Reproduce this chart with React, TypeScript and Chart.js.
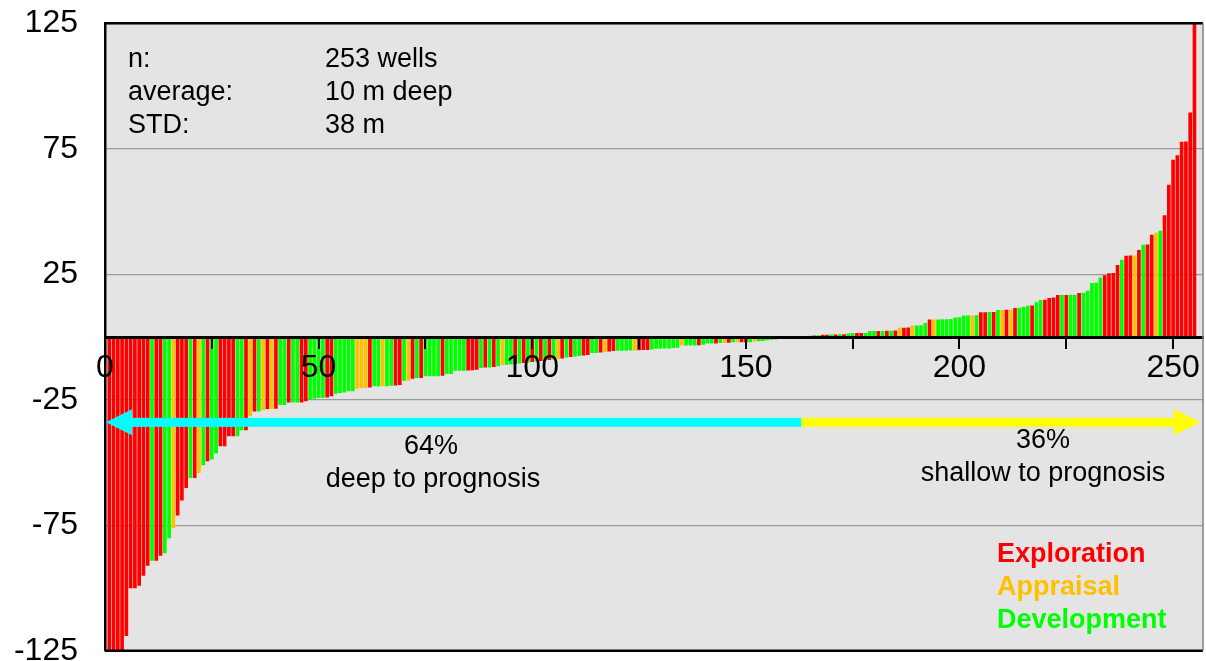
import React, { useEffect, useRef } from "react";
import { Chart, registerables } from "chart.js";

Chart.register(...registerables);

// depth difference vs prognosis (m), sorted, one value per well
const depthDiff: number[] = [
  -130, -130, -130, -130, -119, -100, -100, -99, -95, -91,
  -89, -89, -87, -86, -80, -76, -71, -65, -60, -56,
  -56, -54, -51, -49.4, -48.7, -46.3, -43.4, -43.4, -39.4, -39.4,
  -39.4, -37, -37, -31.4, -29.5, -29.5, -29, -28.5, -28.5, -28.4,
  -27, -27, -26, -26, -26, -26, -25.5, -25, -24.5, -24.2,
  -24.2, -24, -23.5, -22.5, -22.2, -22, -21.5, -21.5, -20.5, -20.2,
  -20.2, -20, -19.5, -19.5, -19.5, -19.5, -19.3, -19.2, -19, -17.3,
  -17.3, -16.5, -16.2, -16.2, -15.5, -15.5, -15.5, -15.5, -15.3, -14.6,
  -14.6, -13.3, -13.3, -13.3, -13.2, -13.1, -12.9, -12.2, -12, -12,
  -11.8, -11.5, -11, -10.9, -10.8, -10.6, -10.4, -10.2, -10, -9.8,
  -9.6, -9.4, -9.2, -9, -8.8, -8.6, -8.4, -8, -7.8, -7.6,
  -7.4, -7.2, -7, -6.2, -6.2, -6, -5.8, -5.6, -5.4, -5.3,
  -5.3, -5.3, -5.2, -5.2, -5.1, -5, -5, -4.8, -4.5, -4.5,
  -4.4, -4.4, -4.3, -4.2, -3.3, -3.3, -3.3, -3.3, -3.2, -3,
  -2.5, -2.5, -2.5, -2.3, -2.3, -2.2, -2, -2, -2, -2,
  -2, -1.8, -1.6, -1.5, -1.2, -1, -0.8, -0.6, -0.5, -0.4,
  -0.3, -0.2, 0.2, 0.3, 0.4, 0.5, 0.6, 0.8, 0.8, 0.9,
  0.9, 1, 1, 1.3, 1.5, 1.5, 1.5, 1.5, 2.3, 2.3,
  2.3, 2.3, 2.4, 2.4, 2.5, 3.6, 3.6, 3.7, 4.4, 4.4,
  4.5, 5.4, 6.8, 6.8, 6.8, 6.9, 6.9, 7, 7.6, 7.7,
  8.4, 8.4, 8.4, 8.5, 9.7, 9.7, 9.8, 9.8, 10.6, 10.6,
  10.7, 10.7, 11.4, 11.5, 11.9, 12.3, 12.4, 13.7, 14.6, 14.7,
  15.4, 15.6, 16.6, 16.6, 16.6, 16.7, 16.7, 17.4, 17.5, 18.3,
  21.4, 21.5, 23.6, 24.5, 25.3, 25.4, 28.5, 30.6, 32.2, 32.3,
  32.3, 34.5, 36.6, 36.7, 40.6, 41.4, 42.2, 48.4, 60.5, 70.5,
  72.3, 77.6, 77.7, 89.3, 126,
];

// well type per bar: E = Exploration, A = Appraisal, D = Development
const wellType: string[] = [
  "EEEEEEEEEE", "DEEDDAEEED", "EADEDDEEEE", "DDEAEDAEAE", "DDEDDEEDDD",
  "DEEDDDDDAA", "AEDDADDEED", "AEDEDDDDED", "DDDDEEEDED", "EDADDEDEDE",
  "DEDEDAEDED", "DEEDDEAEED", "DDDAEEEDDD", "DDDDADDDED", "DDEDAEDAEE",
  "DADDDDEDDE", "DDDEDEDEED", "EDEDDEEDDD", "EDEDEAEEAD", "DDEADDDDDD",
  "DDADEEDEDA", "EAEDDDEDDE", "EEEDEDDEDD", "DDDEEEEDEE", "AEDEEADEEE",
  "EEEEE",
].join("").split("");

const typeCodes = ["E", "A", "D"];
const typeNames = ["Exploration", "Appraisal", "Development"];
const typeColors = ["#FF0000", "#FFC000", "#00FF00"];

const statLabels = ["n:", "average:", "STD:"];
const statValues = ["253 wells", "10 m deep", "38 m"];

const deepShare = "64%";
const deepText = "deep to prognosis";
const shallowShare = "36%";
const shallowText = "shallow to prognosis";

// arrow: level on y axis, and the well count where deep turns to shallow
const arrowLevel = -34;
const splitWell = 163;

const yMin = -125;
const yMax = 125;
const yStep = 50;
const xMax = 257;
const xTickStep = 25;
const xLabelStep = 50;

const FONT = "'Liberation Sans', Arial, Helvetica, sans-serif";
const SHIFT = 23; // canvas is moved up by this many px

function drawArrow(ctx: CanvasRenderingContext2D, from: number, tip: number, y: number, color: string) {
  const dir = tip > from ? 1 : -1;
  const headLen = 26;
  const headHalf = 13;
  const shaftHalf = 4.5;
  ctx.save();
  ctx.fillStyle = color;
  const baseX = tip - dir * headLen;
  ctx.fillRect(Math.min(from, baseX), y - shaftHalf, Math.abs(baseX - from), shaftHalf * 2);
  ctx.beginPath();
  ctx.moveTo(tip, y);
  ctx.lineTo(baseX, y - headHalf);
  ctx.lineTo(baseX, y + headHalf);
  ctx.closePath();
  ctx.fill();
  ctx.restore();
}

export default function App() {
  const ref = useRef<HTMLCanvasElement>(null);

  useEffect(() => {
    const canvas = ref.current;
    if (!canvas) return;

    const colorOf = (t: string) => typeColors[typeCodes.indexOf(t)];

    const overlay: any = {
      id: "overlay",
      beforeDraw(chart: any) {
        const { ctx, chartArea: a } = chart;
        ctx.save();
        ctx.fillStyle = "#E4E4E4";
        ctx.fillRect(a.left, a.top, a.right - a.left, a.bottom - a.top);
        ctx.restore();
      },
      afterDraw(chart: any) {
        const { ctx, chartArea: a, scales } = chart;
        const xs = scales.x;
        const ys = scales.y;

        // frame
        ctx.save();
        ctx.strokeStyle = "#000";
        ctx.lineWidth = 2.5;
        ctx.beginPath();
        ctx.moveTo(a.left, a.top);
        ctx.lineTo(a.right, a.top);
        ctx.moveTo(a.left, a.bottom);
        ctx.lineTo(a.right, a.bottom);
        ctx.stroke();
        ctx.strokeStyle = "#808080";
        ctx.lineWidth = 1.5;
        ctx.beginPath();
        ctx.moveTo(a.right, a.top);
        ctx.lineTo(a.right, a.bottom);
        ctx.stroke();
        ctx.restore();

        // arrows
        const ay = ys.getPixelForValue(arrowLevel);
        const sx = xs.getPixelForValue(splitWell);
        drawArrow(ctx, sx, a.left + 1, ay, "#00FFFF");
        drawArrow(ctx, sx, a.right - 3, ay, "#FFFF00");

        const Y = (v: number) => v + SHIFT;
        ctx.save();
        ctx.fillStyle = "#000";
        ctx.font = `27px ${FONT}`;
        ctx.textBaseline = "middle";
        ctx.textAlign = "left";
        statLabels.forEach((s, i) => {
          ctx.fillText(s, 128, Y(60 + i * 33));
          ctx.fillText(statValues[i], 325, Y(60 + i * 33));
        });
        ctx.textAlign = "center";
        ctx.fillText(deepShare, 431, Y(447));
        ctx.fillText(deepText, 433, Y(480));
        ctx.fillText(shallowShare, 1043, Y(441));
        ctx.fillText(shallowText, 1043, Y(474));

        ctx.textAlign = "left";
        ctx.font = `bold 27px ${FONT}`;
        typeNames.forEach((n, i) => {
          ctx.fillStyle = typeColors[i];
          ctx.fillText(n, 997, Y(555 + i * 33));
        });
        ctx.restore();
      },
    };

    const chart = new Chart(canvas, {
      type: "bar",
      data: {
        datasets: [
          {
            data: depthDiff.map((v, i) => ({ x: i + 1, y: v })),
            backgroundColor: wellType.map(colorOf),
            borderWidth: 0,
            barThickness: 3,
          } as any,
        ],
      },
      options: {
        animation: false,
        responsive: true,
        maintainAspectRatio: false,
        devicePixelRatio: 1,
        layout: { padding: { top: 0, right: 3, bottom: 0, left: 0 } },
        plugins: {
          legend: { display: false },
          tooltip: { enabled: false },
        },
        scales: {
          x: {
            type: "linear",
            min: 0,
            max: xMax,
            offset: false,
            position: { y: 0 } as any,
            ticks: {
              stepSize: xTickStep,
              includeBounds: false,
              autoSkip: false,
              maxRotation: 0,
              padding: 2,
              color: "#000",
              font: { family: FONT, size: 32 },
              z: 2,
              callback: (v: any) => (Number(v) % xLabelStep === 0 ? String(v) : ""),
            },
            grid: {
              offset: false,
              drawOnChartArea: false,
              drawTicks: true,
              tickLength: 10,
              color: "#000",
              lineWidth: 2,
              z: 2,
            },
            border: { display: true, color: "#000", width: 3, z: 2 },
          },
          y: {
            type: "linear",
            min: yMin,
            max: yMax,
            ticks: {
              stepSize: yStep,
              padding: 27,
              color: "#000",
              font: { family: FONT, size: 32 },
            },
            grid: {
              color: "#9A9A9A",
              lineWidth: 1.2,
              drawTicks: false,
            },
            border: { display: true, color: "#000", width: 2.5 },
            afterFit: (s: any) => {
              s.width = 105;
            },
          },
        } as any,
      },
      plugins: [overlay],
    });

    return () => chart.destroy();
  }, []);

  return (
    <div
      style={{
        position: "fixed",
        left: 0,
        top: 0,
        width: 1206,
        height: 661,
        overflow: "hidden",
        background: "#fff",
      }}
    >
      <div style={{ position: "absolute", left: 0, top: -SHIFT, width: 1206, height: 720 }}>
        <canvas ref={ref} />
      </div>
    </div>
  );
}
